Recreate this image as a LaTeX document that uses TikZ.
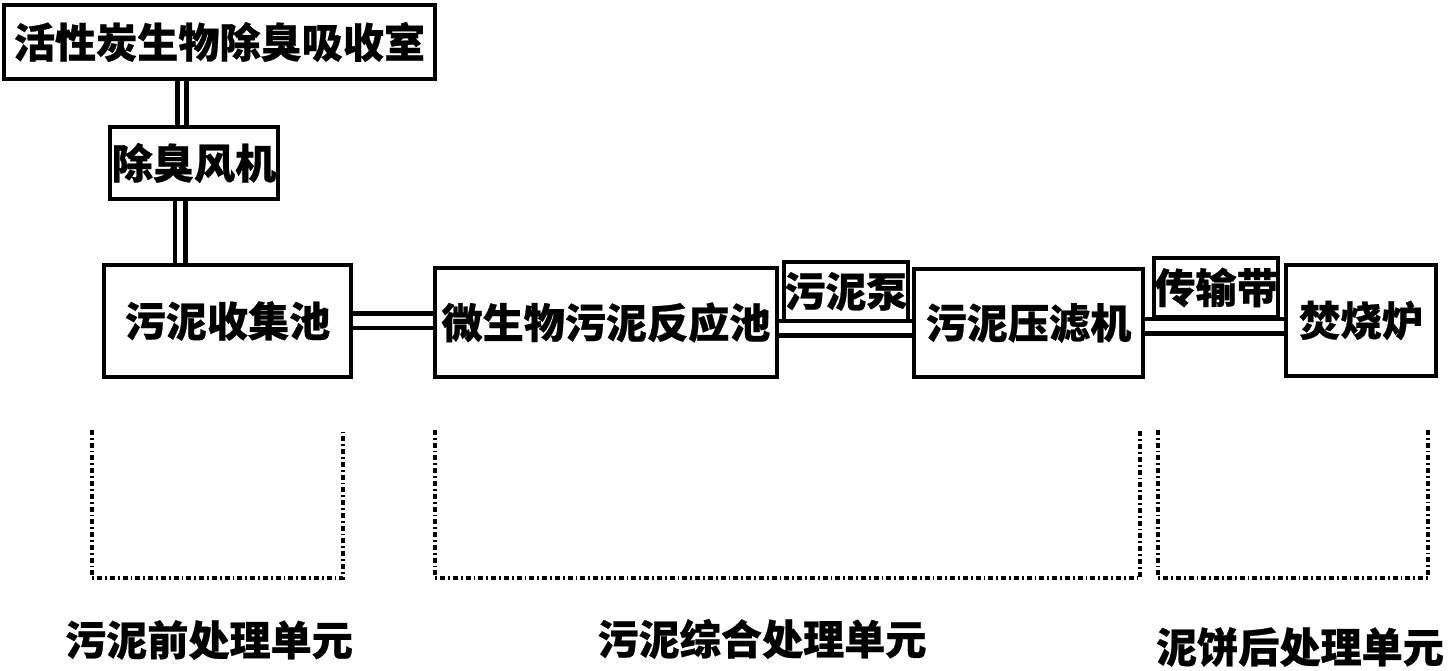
\documentclass[tikz,border=0pt]{standalone}
\usepackage{fontspec}
\newfontfamily\cjk{Noto Sans CJK SC}[BoldFeatures={FakeBold=0.6}]
\usetikzlibrary{positioning}
\usetikzlibrary{calc}
\usetikzlibrary{backgrounds}

\begin{document}
\begin{tikzpicture}[x=0.2mm,y=-0.2mm,line width=0.8mm,
                      font=\cjk\bfseries\fontsize{23.4pt}{27pt}\selectfont,
                      unit/.style={draw,fill=white,inner sep=0,align=center},
                      pipe/.style={double,line width=0.9mm,double distance=2mm},
                      vpipe/.style={pipe,double distance=0.9mm},
                      zone/.style={line width=0.7mm,dash pattern=on 1mm off 0.6mm on 0.35mm off 0.6mm},
                      ]
    \useasboundingbox (0,0) rectangle (1449,671);

    \node[unit,minimum width=86.2mm,minimum height=14.8mm] (absorb) at (219.5,42) {活性炭生物除臭吸收室};
    \node[unit,minimum width=33.6mm,minimum height=14.4mm] (fan) at (194,163) {除臭风机};
    \node[unit,minimum width=49.4mm,minimum height=22.4mm] (collect) at (227.5,321) {污泥收集池};
    \node[unit,minimum width=68.4mm,minimum height=21.8mm] (reactor) at (606,322.5) {微生物污泥反应池};
    \node[unit,minimum width=24.4mm,minimum height=11.8mm] (pump) at (846,291.5) {污泥泵};
    \node[unit,minimum width=45.8mm,minimum height=21.6mm] (press) at (1028.5,323) {污泥压滤机};
    \node[unit,minimum width=24.8mm,minimum height=11.8mm] (belt) at (1216,287.5) {传输带};
    \node[unit,minimum width=30mm,minimum height=22.2mm] (furnace) at (1361,320.5) {焚烧炉};

  \begin{scope}[on background layer]
    \draw[vpipe] ([xshift=-2.4mm]fan.north) -- ([xshift=-2.4mm]fan.north |- absorb.south);
    \draw[vpipe,double distance=1.2mm] ([xshift=-2.8mm]fan.south) -- ([xshift=-2.8mm]fan.south |- collect.north);
    \draw[pipe] (collect.east) -- (collect.east -| reactor.west);
    \draw[pipe] ([yshift=-1.2mm]reactor.east) -- ([yshift=-1.2mm]reactor.east -| press.west);
    \draw[pipe] ([yshift=-0.7mm]press.east) -- ([yshift=-0.7mm]press.east -| furnace.west);
  \end{scope}

    % unit brackets
    \foreach \l/\r in {92/343,435/1140,1158/1428}
      \draw[zone] (\l,430) -- (\l,578) -- (\r,578) -- (\r,430);

    \node (pre) at (209,640) {污泥前处理单元};
    \node (mix) at (762,639) {污泥综合处理单元};
    \node (post) at (1300,647) {泥饼后处理单元};
  \end{tikzpicture}
\end{document}
